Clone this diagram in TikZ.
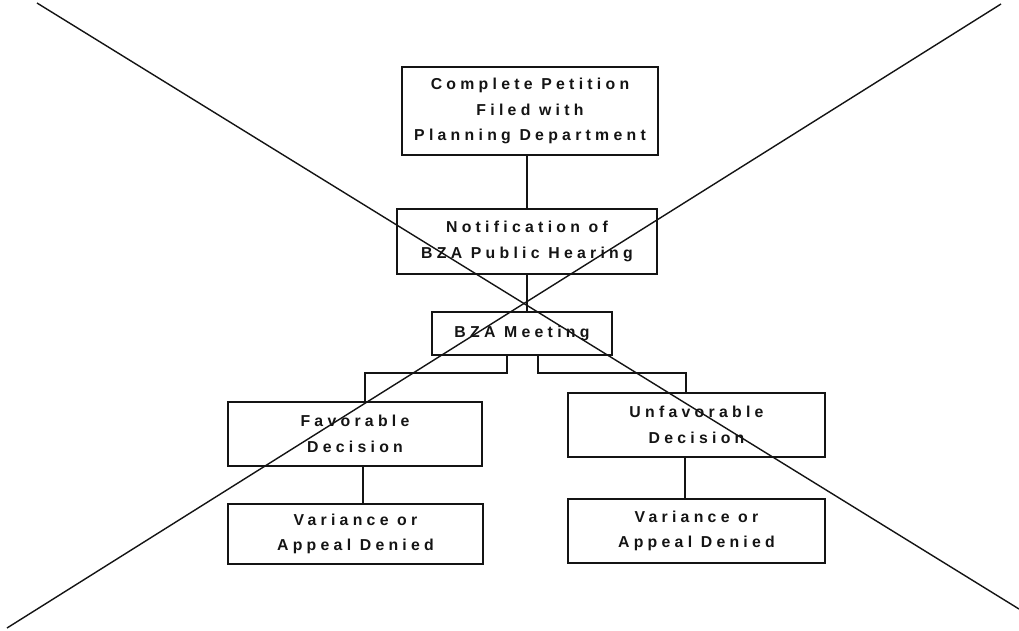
\documentclass[tikz,border=0pt]{standalone}
\usepackage{fontspec}
\usepackage{tikz}
\usetikzlibrary{calc,positioning}
\newfontfamily\flowfont{Liberation Sans}[LetterSpace=27]
\definecolor{scanInk}{RGB}{20,20,20}

\begin{document}
\begin{tikzpicture}[x=0.02cm, y=-0.02cm,
  procbox/.style={draw=scanInk, line width=1.1pt, inner sep=0pt, align=center,
    text=scanInk, font=\flowfont\bfseries\fontsize{9}{14.5}\selectfont},
  link/.style={draw=scanInk, line width=0.9pt},
  cross/.style={draw=scanInk, line width=0.8pt}]
\useasboundingbox (0,0) rectangle (1019,630);

\node[procbox, minimum width=5.12cm, minimum height=1.76cm] (petition) at (530,111) {Complete Petition\\Filed with\\Planning Department};
\node[procbox, minimum width=5.2cm, minimum height=1.3cm] (notice) at (527,241.5) {Notification of\\BZA Public Hearing};
\node[procbox, minimum width=3.6cm, minimum height=0.86cm] (meeting) at (522,333.5) {BZA Meeting};
\node[procbox, minimum width=5.08cm, minimum height=1.28cm] (favor) at (355,434) {Favorable\\Decision};
\node[procbox, minimum width=5.14cm, minimum height=1.28cm] (unfavor) at (696.5,425) {Unfavorable\\Decision};
\node[procbox, minimum width=5.1cm, minimum height=1.2cm] (deniedL) at (355.5,534) {Variance or\\Appeal Denied};
\node[procbox, minimum width=5.14cm, minimum height=1.28cm] (deniedR) at (696.5,531) {Variance or\\Appeal Denied};

\coordinate (dropL) at (507,373);
\coordinate (dropR) at (538,373);
\coordinate (forkL) at (365,373);
\coordinate (forkR) at (686,373);
\coordinate (stemL) at (363,0);
\coordinate (stemR) at (685,0);

\draw[link] (petition.south -| notice.north) -- (notice.north);
\draw[link, line width=1.5pt] (notice.south) -- (notice.south |- meeting.north);
\draw[link] (meeting.south -| dropL) -- (dropL) -- (forkL) -- (forkL |- favor.north);
\draw[link] (meeting.south -| dropR) -- (dropR) -- (forkR) -- (forkR |- unfavor.north);
\draw[link] (favor.south -| stemL) -- (deniedL.north -| stemL);
\draw[link] (unfavor.south -| stemR) -- (deniedR.north -| stemR);

\coordinate (xTL) at (37,3);
\coordinate (xBR) at (1019,609);
\coordinate (xTR) at (1001,4);
\coordinate (xBL) at (7,628);
\draw[cross] (xTL) -- (xBR);
\draw[cross] (xTR) -- (xBL);
\end{tikzpicture}
\end{document}
